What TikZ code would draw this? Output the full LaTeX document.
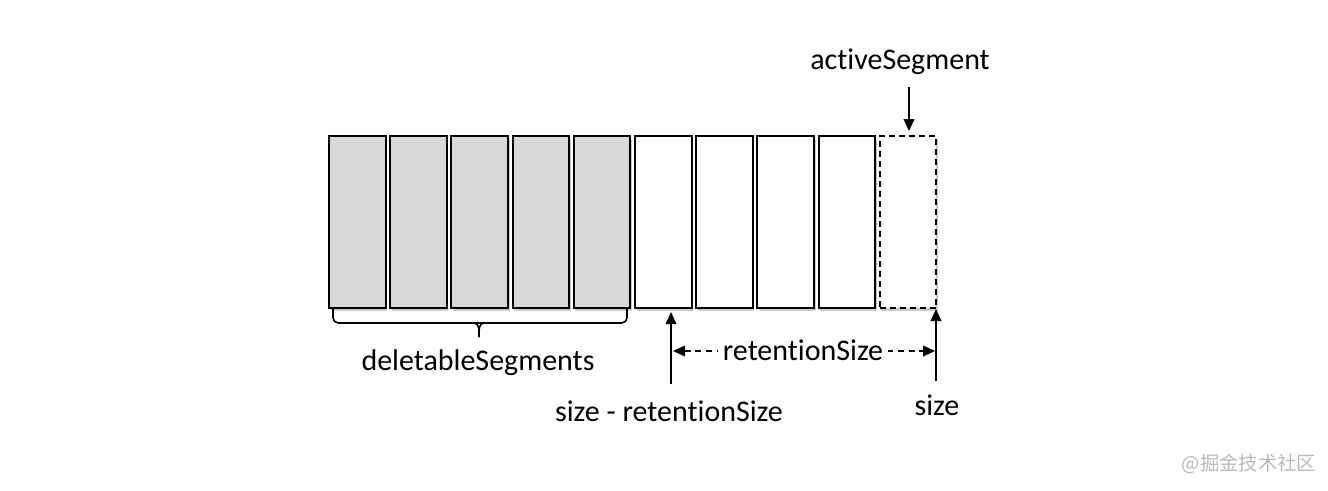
\documentclass[tikz,border=0pt]{standalone}
\usepackage{fontspec}
\setmainfont[Ligatures=NoCommon]{Carlito}
\newfontfamily\cjk{Noto Sans CJK SC}
\usetikzlibrary{arrows.meta,shadows}
\begin{document}
\begin{tikzpicture}[x=0.75pt,y=-0.75pt,
  seg/.style={draw=black,line width=1.5pt,minimum width=42.4pt,minimum height=129pt,inner sep=0pt,anchor=north west,
    drop shadow={shadow xshift=1.2pt,shadow yshift=-1.8pt,opacity=0.2,fill=black}},
  oldseg/.style={seg,fill={rgb,255:red,216;green,216;blue,216}},
  newseg/.style={seg,fill=white},
  actseg/.style={seg,fill=white,dashed,dash pattern=on 4.5pt off 3pt},
  lbl/.style={font=\fontsize{22.5}{26}\selectfont,inner sep=1pt},
  arr/.style={line width=1.2pt,-{Triangle[length=9pt,width=8pt]}}
]
\path[use as bounding box] (0,0) rectangle (1328,490);
% segments
\foreach \i/\st in {1/oldseg,2/oldseg,3/oldseg,4/oldseg,5/oldseg,6/newseg,7/newseg,8/newseg,9/newseg,10/actseg}{
  \node[\st] (s\i) at ({328+(\i-1)*61.2},135.3) {};
}
% brace
\coordinate (bl) at (333,309);
\coordinate (br) at (627,309);
\coordinate (btip) at (479,337);
\draw[line width=1.2pt,rounded corners=4pt] (bl) -- (333,323) -- (627,323) -- (br);
\draw[line width=1.2pt] (474,323) to[out=0,in=90] (btip);
\draw[line width=1.2pt] (484,323) to[out=180,in=90] (btip);
\node[lbl] (del) at (478,363) {deletableSegments};
% activeSegment
\node[lbl] (act) at (900,62) {activeSegment};
\coordinate (actA) at (909,87);
\coordinate (actB) at (909,131);
\draw[arr] (actA) -- (actB);
% size - retentionSize
\coordinate (srA) at (671,384);
\coordinate (srB) at (671,312);
\draw[arr] (srA) -- (srB);
\node[lbl] (srl) at (669,411) {size - retentionSize};
% size
\coordinate (szA) at (936,381);
\coordinate (szB) at (936,309);
\draw[arr] (szA) -- (szB);
\node[lbl] (szl) at (937,405) {size};
% retentionSize dimension
\coordinate (rL) at (673,351);
\coordinate (rR) at (935,351);
\draw[line width=1.2pt,dash pattern=on 4.5pt off 3.5pt,{Triangle[length=9pt,width=8pt]}-{Triangle[length=9pt,width=8pt]}] (rL) -- (rR);
\node[lbl,fill=white,inner xsep=4pt] (ret) at (803,350) {retentionSize};
% watermark
\node[font=\cjk\fontsize{14.5}{16}\selectfont,text={rgb,255:red,185;green,185;blue,185},inner sep=0pt] (wm) at (1249,464) {@掘金技术社区};
\end{tikzpicture}
\end{document}
